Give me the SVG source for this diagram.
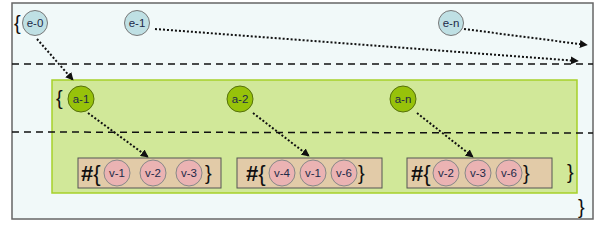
<svg xmlns="http://www.w3.org/2000/svg" width="600" height="230" viewBox="0 0 600 230">
<defs>
<style>
.outer{fill:#f1f9f9;stroke:#666;stroke-width:1.5}
.green{fill:#d1e899;stroke:#a6d12a;stroke-width:1.5}
.tan{fill:#e2cba8;stroke:#555;stroke-width:1}
.dash{stroke:#111;stroke-width:1.5;stroke-dasharray:7,5;fill:none}
.dot{stroke:#111;stroke-width:2;stroke-dasharray:2,2;fill:none}
.e circle{fill:#bfe0e4;stroke:#777;stroke-width:1}
.a circle{fill:#97c20a;stroke:#55700a;stroke-width:1}
.v circle{fill:#ebb3b3;stroke:#888;stroke-width:1}
.lbl{font-family:"Liberation Sans",Arial,sans-serif;font-size:11.5px;fill:#1c2a48;text-anchor:middle}
.br{font-family:"Liberation Sans",Arial,sans-serif;font-size:20px;fill:#111}
.hash{font-family:"Liberation Sans",Arial,sans-serif;font-size:22px;fill:#111}
.hash tspan{font-weight:bold}
</style>
<marker id="ah" viewBox="0 0 10 10" refX="9" refY="5" markerWidth="4" markerHeight="4" orient="auto"><path d="M0,0L10,5L0,10z" fill="#111"/></marker>
</defs>
<rect class="outer" x="12" y="3" width="581" height="216"/>
<rect class="green" x="52" y="80" width="525" height="113"/>
<rect class="tan" x="78" y="158" width="143" height="30"/>
<rect class="tan" x="237" y="158" width="145" height="30"/>
<rect class="tan" x="407" y="158" width="145" height="30"/>
<line class="dash" x1="12" y1="64" x2="593" y2="64"/>
<line class="dash" x1="12" y1="132" x2="593" y2="133"/>
<text class="br" x="14" y="30">{</text>
<text class="br" x="56" y="105">{</text>
<text class="br" x="567" y="179">}</text>
<text class="br" x="578" y="214">}</text>
<g id="e-0" class="e"><circle cx="35" cy="23" r="12.5"/><text class="lbl" x="35" y="27">e-0</text></g>
<g id="e-1" class="e"><circle cx="137" cy="23" r="12.5"/><text class="lbl" x="137" y="27">e-1</text></g>
<g id="e-n" class="e"><circle cx="451" cy="23" r="12.5"/><text class="lbl" x="451" y="27">e-n</text></g>
<g id="a-1" class="a"><circle cx="81" cy="99" r="13"/><text class="lbl" x="81" y="103">a-1</text></g>
<g id="a-2" class="a"><circle cx="240" cy="99" r="13"/><text class="lbl" x="240" y="103">a-2</text></g>
<g id="a-n" class="a"><circle cx="403" cy="99" r="13"/><text class="lbl" x="403" y="103">a-n</text></g>
<g id="set-1">
<text class="hash" x="81" y="181"><tspan>#</tspan>{</text>
<g class="v"><circle cx="117" cy="173" r="13"/><text class="lbl" x="117" y="177">v-1</text></g>
<g class="v"><circle cx="153" cy="173" r="13"/><text class="lbl" x="153" y="177">v-2</text></g>
<g class="v"><circle cx="189" cy="173" r="13"/><text class="lbl" x="189" y="177">v-3</text></g>
<text class="br" x="205" y="180">}</text>
</g>
<g id="set-2">
<text class="hash" x="246" y="181"><tspan>#</tspan>{</text>
<g class="v"><circle cx="282" cy="173" r="13"/><text class="lbl" x="282" y="177">v-4</text></g>
<g class="v"><circle cx="313" cy="173" r="13"/><text class="lbl" x="313" y="177">v-1</text></g>
<g class="v"><circle cx="344" cy="173" r="13"/><text class="lbl" x="344" y="177">v-6</text></g>
<text class="br" x="358" y="180">}</text>
</g>
<g id="set-3">
<text class="hash" x="411" y="181"><tspan>#</tspan>{</text>
<g class="v"><circle cx="446" cy="173" r="13"/><text class="lbl" x="446" y="177">v-2</text></g>
<g class="v"><circle cx="478" cy="173" r="13"/><text class="lbl" x="478" y="177">v-3</text></g>
<g class="v"><circle cx="509" cy="173" r="13"/><text class="lbl" x="509" y="177">v-6</text></g>
<text class="br" x="523" y="180">}</text>
</g>
<g id="connectors">
<line class="dot" x1="37" y1="39" x2="73" y2="80" marker-end="url(#ah)"/>
<line class="dot" x1="155" y1="29" x2="578" y2="61" marker-end="url(#ah)"/>
<line class="dot" x1="464" y1="29" x2="587" y2="45" marker-end="url(#ah)"/>
<line class="dot" x1="88" y1="113" x2="148" y2="157" marker-end="url(#ah)"/>
<line class="dot" x1="253" y1="113" x2="309" y2="156" marker-end="url(#ah)"/>
<line class="dot" x1="417" y1="113" x2="473" y2="157" marker-end="url(#ah)"/>
</g>
</svg>
